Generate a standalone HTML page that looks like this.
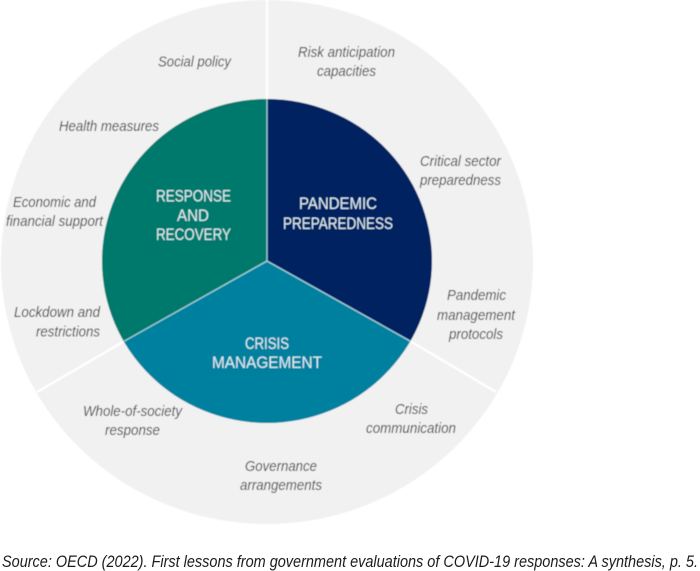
<!DOCTYPE html>
<html>
<head>
<meta charset="utf-8">
<style>
html,body{margin:0;padding:0;background:#fff;width:700px;height:571px;overflow:hidden}
svg{display:block}
.g{font-family:"Liberation Sans",sans-serif;font-style:italic;font-size:14.8px;fill:#454545}
.m{font-family:"Liberation Sans",sans-serif;font-size:16.5px;fill:#dcedf2}
.s{font-family:"Liberation Sans",sans-serif;font-style:italic;font-size:16.5px;fill:#1c1c1c}
</style>
</head>
<body>
<svg width="700" height="571" viewBox="0 0 700 571" xmlns="http://www.w3.org/2000/svg">
<defs>
<filter id="b" x="-5%" y="-5%" width="110%" height="110%"><feGaussianBlur stdDeviation="0.4"/></filter>
<clipPath id="cl"><ellipse cx="267" cy="261" rx="165" ry="162"/></clipPath>
</defs>
<rect width="700" height="571" fill="#fff"/>
<g filter="url(#b)">
<ellipse cx="267" cy="262" rx="266" ry="262" fill="#f1f1f2"/>
<g stroke="#fff" stroke-width="2.4">
<line x1="267" y1="-2" x2="267" y2="100"/>
<line x1="124.5" y1="341" x2="37" y2="392"/>
<line x1="410" y1="341" x2="496" y2="392"/>
</g>
<g clip-path="url(#cl)">
<polygon points="267,261 267,90 90,90 90,351 124.5,341" fill="#06796d"/>
<polygon points="267,261 267,90 445,90 445,350 410,341" fill="#002060"/>
<polygon points="267,261 124.5,341 90,351 90,430 445,430 445,350 410,341" fill="#03809f"/>
<g stroke="#9fd0dc" stroke-width="1.3" fill="none">
<line x1="267" y1="99" x2="267" y2="261"/>
<polyline points="124.5,341 267,261 410,341"/>
</g>
</g>
<g class="g">
<text class="g" x="158" y="66.5" textLength="73" lengthAdjust="spacingAndGlyphs">Social policy</text>
<text class="g" x="59" y="131" textLength="100" lengthAdjust="spacingAndGlyphs">Health measures</text>
<text class="g" x="13" y="207" textLength="83" lengthAdjust="spacingAndGlyphs">Economic and</text>
<text class="g" x="6" y="226" textLength="97" lengthAdjust="spacingAndGlyphs">financial support</text>
<text class="g" x="14" y="317" textLength="86" lengthAdjust="spacingAndGlyphs">Lockdown and</text>
<text class="g" x="36" y="336.5" textLength="64" lengthAdjust="spacingAndGlyphs">restrictions</text>
<text class="g" x="83" y="416" textLength="99" lengthAdjust="spacingAndGlyphs">Whole-of-society</text>
<text class="g" x="105" y="435" textLength="55" lengthAdjust="spacingAndGlyphs">response</text>
<text class="g" x="245" y="471" textLength="72" lengthAdjust="spacingAndGlyphs">Governance</text>
<text class="g" x="240" y="490" textLength="82" lengthAdjust="spacingAndGlyphs">arrangements</text>
<text class="g" x="395" y="414" textLength="33" lengthAdjust="spacingAndGlyphs">Crisis</text>
<text class="g" x="366" y="433" textLength="90" lengthAdjust="spacingAndGlyphs">communication</text>
<text class="g" x="447" y="300" textLength="59" lengthAdjust="spacingAndGlyphs">Pandemic</text>
<text class="g" x="437" y="320" textLength="78" lengthAdjust="spacingAndGlyphs">management</text>
<text class="g" x="449" y="339" textLength="54" lengthAdjust="spacingAndGlyphs">protocols</text>
<text class="g" x="420" y="166" textLength="81" lengthAdjust="spacingAndGlyphs">Critical sector</text>
<text class="g" x="420" y="185" textLength="81" lengthAdjust="spacingAndGlyphs">preparedness</text>
<text class="g" x="298" y="57" textLength="97" lengthAdjust="spacingAndGlyphs">Risk anticipation</text>
<text class="g" x="317" y="76" textLength="59" lengthAdjust="spacingAndGlyphs">capacities</text>
</g>
<text class="m" x="156" y="201.5" textLength="75" lengthAdjust="spacingAndGlyphs">RESPONSE</text>
<text class="m" x="177" y="221" textLength="32" lengthAdjust="spacingAndGlyphs">AND</text>
<text class="m" x="156" y="240" textLength="75" lengthAdjust="spacingAndGlyphs">RECOVERY</text>
<text class="m" x="299" y="209" textLength="78" lengthAdjust="spacingAndGlyphs">PANDEMIC</text>
<text class="m" x="283" y="229" textLength="110" lengthAdjust="spacingAndGlyphs">PREPAREDNESS</text>
<text class="m" x="245" y="349" textLength="44" lengthAdjust="spacingAndGlyphs">CRISIS</text>
<text class="m" x="212" y="368" textLength="110" lengthAdjust="spacingAndGlyphs">MANAGEMENT</text>
</g>
<text class="s" x="2" y="567" textLength="696" lengthAdjust="spacingAndGlyphs">Source: OECD (2022). First lessons from government evaluations of COVID-19 responses: A synthesis, p. 5.</text>
</svg>
</body>
</html>
